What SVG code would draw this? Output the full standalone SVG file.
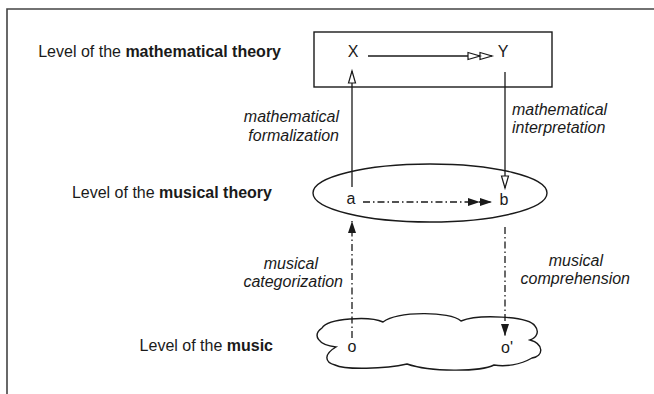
<svg xmlns="http://www.w3.org/2000/svg" width="654" height="394" viewBox="0 0 654 394">
<style>
text{font-family:"Liberation Sans",Arial,Helvetica,sans-serif;fill:#1a1a1a}
.lvl{font-size:16px}
.b{font-weight:bold}
.it{font-size:16px;font-style:italic}
.nd{font-size:16px;text-anchor:middle}
.sh{fill:#fff;stroke:#1a1a1a;stroke-width:1.4}
.ln{fill:none;stroke:#1a1a1a;stroke-width:1.3}
.dd{stroke-dasharray:7 3 1.5 3}
</style>
<defs>
<marker id="openDouble" markerUnits="userSpaceOnUse" markerWidth="26" markerHeight="10" refX="24" refY="5" orient="auto" overflow="visible">
<path d="M0,1.5 L12,5 L0,8.5 Z M12,1.5 L24,5 L12,8.5 Z" fill="#fff" stroke="#1a1a1a" stroke-width="1.2"/>
</marker>
<marker id="fillDouble" markerUnits="userSpaceOnUse" markerWidth="26" markerHeight="10" refX="24" refY="5" orient="auto" overflow="visible">
<path d="M0,1 L12,5 L0,9 Z M12,1 L24,5 L12,9 Z" fill="#1a1a1a"/>
</marker>
<marker id="openSingle" markerUnits="userSpaceOnUse" markerWidth="14" markerHeight="10" refX="12" refY="5" orient="auto" overflow="visible">
<path d="M0,1.5 L12,5 L0,8.5 Z" fill="#fff" stroke="#1a1a1a" stroke-width="1.2"/>
</marker>
<marker id="fillSingle" markerUnits="userSpaceOnUse" markerWidth="14" markerHeight="10" refX="12" refY="5" orient="auto" overflow="visible">
<path d="M0,1 L12,5 L0,9 Z" fill="#1a1a1a"/>
</marker>
</defs>
<rect width="654" height="394" fill="#fff"/>
<path d="M7,394 V9 H654" fill="none" stroke="#444" stroke-width="1.6"/>

<g id="level-labels">
<text class="lvl" x="281" y="57" text-anchor="end">Level of the <tspan class="b">mathematical theory</tspan></text>
<text class="lvl" x="272" y="198" text-anchor="end">Level of the <tspan class="b">musical theory</tspan></text>
<text class="lvl" x="273" y="351" text-anchor="end">Level of the <tspan class="b">music</tspan></text>
</g>

<g id="math-theory-box">
<rect class="sh" x="314" y="32" width="238" height="55"/>
</g>
<g id="musical-theory-ellipse">
<ellipse class="sh" cx="430" cy="193" rx="117" ry="29"/>
</g>
<g id="music-cloud">
<path class="sh" d="M322,328 C328,318 370,316 383,322 C398,311 450,311 461,321 C478,314 528,316 535,326 C540,332 536,338 530,340 C544,344 544,356 532,358 C520,365 505,367 494,365 C480,372 430,372 407,364 C385,369 345,370 335,365 C324,362 324,354 336,347 C318,345 312,335 322,328 Z"/>
</g>

<g id="node-X"><text class="nd" x="353" y="57">X</text></g>
<g id="node-Y"><text class="nd" x="503" y="57">Y</text></g>
<g id="node-a"><text class="nd" x="351" y="204">a</text></g>
<g id="node-b"><text class="nd" x="504" y="205">b</text></g>
<g id="node-o"><text class="nd" x="352" y="352">o</text></g>
<g id="node-o-prime"><text class="nd" x="507" y="353">o'</text></g>

<g id="connectors">
<line class="ln" x1="368" y1="56" x2="492" y2="56" marker-end="url(#openDouble)"/>
<line class="ln" x1="352" y1="187" x2="352" y2="71" marker-end="url(#openSingle)"/>
<line class="ln" x1="505" y1="72" x2="505" y2="188" marker-end="url(#openSingle)"/>
<line class="ln dd" x1="363" y1="202" x2="492" y2="202" marker-end="url(#fillDouble)"/>
<line class="ln dd" x1="352" y1="338" x2="352" y2="221" marker-end="url(#fillSingle)"/>
<line class="ln dd" x1="505" y1="227" x2="505" y2="336" marker-end="url(#fillSingle)"/>
</g>

<g id="connector-labels">
<text class="it" x="339" y="122" text-anchor="end">mathematical</text>
<text class="it" x="339" y="141" text-anchor="end">formalization</text>
<text class="it" x="512" y="115">mathematical</text>
<text class="it" x="512" y="133">interpretation</text>
<text class="it" x="318" y="269" text-anchor="end">musical</text>
<text class="it" x="343" y="287" text-anchor="end">categorization</text>
<text class="it" x="603" y="266" text-anchor="end">musical</text>
<text class="it" x="630" y="284" text-anchor="end">comprehension</text>
</g>
</svg>
